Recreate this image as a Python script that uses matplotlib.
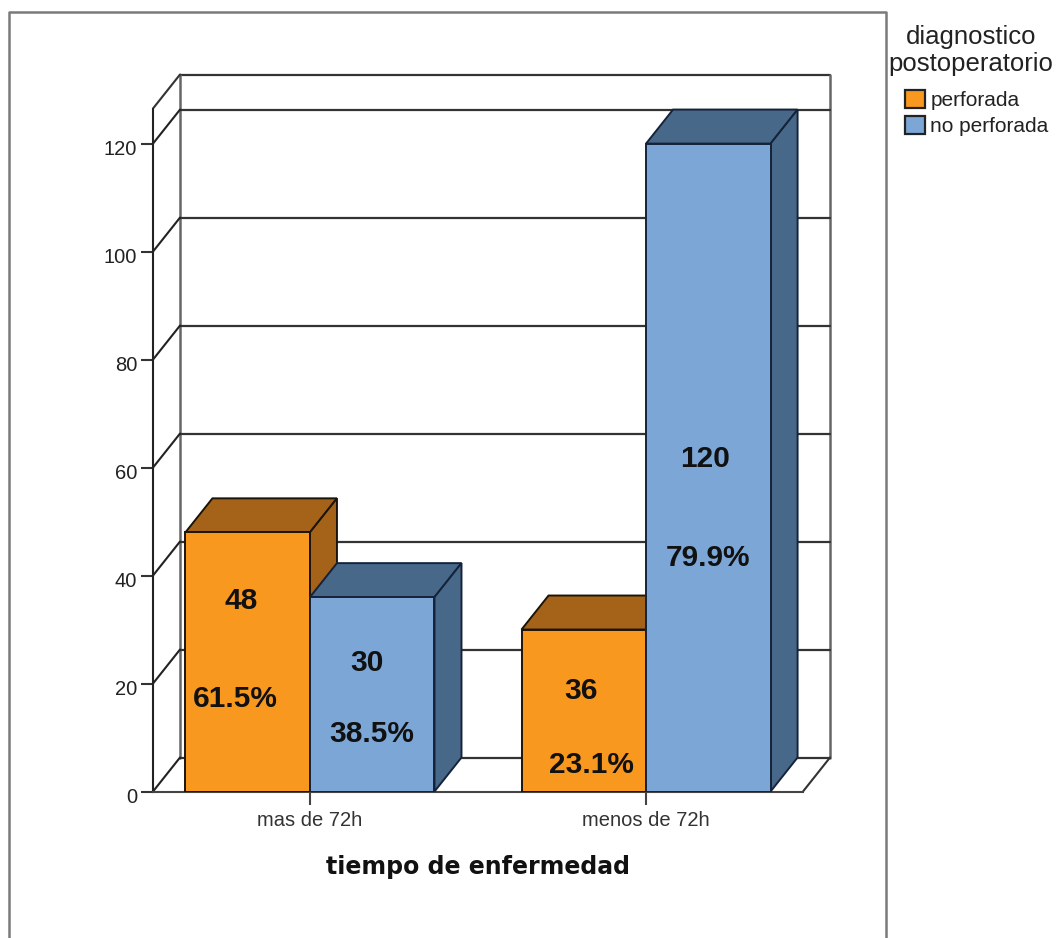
import matplotlib
matplotlib.use('Agg')
import matplotlib.pyplot as plt
from matplotlib.lines import Line2D
from matplotlib.patches import Patch
from matplotlib.transforms import ScaledTranslation

plt.rcParams['font.family'] = ['Liberation Sans', 'DejaVu Sans']

categories = ['mas de 72h', 'menos de 72h']
series = ['perforada', 'no perforada']
# bar heights as drawn, the printed labels differ from them in the original
heights = {'perforada': [48, 30], 'no perforada': [36, 120]}
count_labels = {'perforada': ['48', '36'], 'no perforada': ['30', '120']}
pct_labels = {'perforada': ['61.5%', '23.1%'], 'no perforada': ['38.5%', '79.9%']}
yticks = [0, 20, 40, 60, 80, 100, 120]

front = {'perforada': '#F9981E', 'no perforada': '#7BA6D6'}
dark = {'perforada': '#A5631A', 'no perforada': '#48688A'}

# label anchors: (x in category units, y in value units)
count_pos = {'perforada': [(-0.205, 35.3), (0.808, 18.6)],
             'no perforada': [(0.17, 23.8), (1.175, 61.6)]}
pct_pos = {'perforada': [(-0.222, 17.2), (0.838, 5.0)],
           'no perforada': [(0.185, 10.7), (1.185, 43.3)]}

W, H = 1059, 938
fig = plt.figure(figsize=(W / 100, H / 100), dpi=100, facecolor='white')

# outer frame, runs off the bottom of the image
fig.add_artist(Line2D([9 / W, 9 / W, 886 / W, 886 / W], [0, 1 - 12 / H, 1 - 12 / H, 0],
                      color='#7a7a7a', lw=1.8, transform=fig.transFigure))

ax = fig.add_axes([153 / W, 1 - 791.5 / H, 650 / W, 683 / H])
ax.set_xlim(-0.467, 1.467)
ax.set_ylim(0, 126.5)
x0, x1 = ax.get_xlim()
y1 = ax.get_ylim()[1]
dx, dy = 27 / 336, 34 / 5.4
bw = 0.3705

ln = dict(clip_on=False, solid_capstyle='round')
# back wall and floor
ax.plot([x0 + dx, x1 + dx], [y1 + dy, y1 + dy], color='#333333', lw=1.6, zorder=1, **ln)
ax.plot([x0 + dx, x0 + dx], [dy, y1 + dy], color='#666666', lw=1.8, zorder=1, **ln)
ax.plot([x1 + dx, x1 + dx], [dy, y1 + dy], color='#666666', lw=1.8, zorder=1, **ln)
ax.plot([x0, x0 + dx], [y1, y1 + dy], color='#333333', lw=1.5, zorder=1, **ln)
ax.plot([x1, x1 + dx], [0, dy], color='#333333', lw=1.5, zorder=1, **ln)
for t in yticks:
    ax.plot([x0 + dx, x1 + dx], [t + dy, t + dy], color='#333333', lw=1.6, zorder=1, **ln)
    ax.plot([x0, x0 + dx], [t, t + dy], color='#222222', lw=1.5, zorder=1, **ln)

# bars, left to right so each one covers the side of the one before
z = 3
for i, cat in enumerate(categories):
    for j, s in enumerate(series):
        left = i - bw + j * bw
        right = left + bw
        h = heights[s][i]
        ec = '#1c1408' if s == 'perforada' else '#14233a'
        ax.fill([left, left + dx, right + dx, right], [h, h + dy, h + dy, h],
                fc=dark[s], ec=ec, lw=1.4, zorder=z, clip_on=False)
        ax.fill([right, right + dx, right + dx, right], [0, dy, h + dy, h],
                fc=dark[s], ec=ec, lw=1.4, zorder=z, clip_on=False)
        ax.bar(left, h, width=bw, align='edge', color=front[s], ec=ec, lw=1.4, zorder=z + 1)
        z += 2

for s in series:
    for i in range(2):
        ax.text(*count_pos[s][i], count_labels[s][i], ha='center', va='center',
                fontsize=21.5, fontweight='bold', color='#111111', zorder=30)
        ax.text(*pct_pos[s][i], pct_labels[s][i], ha='center', va='center',
                fontsize=21.5, fontweight='bold', color='#111111', zorder=30)

for side in ['top', 'right']:
    ax.spines[side].set_visible(False)
ax.spines['left'].set_linewidth(1.5)
ax.spines['left'].set_color('#222222')
ax.spines['bottom'].set_linewidth(1.5)
ax.spines['bottom'].set_color('#444444')
ax.patch.set_alpha(0)
ax.set_yticks(yticks)
ax.set_xticks([0, 1], categories)
ax.tick_params(axis='y', length=8.5, width=1.5, labelsize=14.5, pad=3, color='#333333', labelcolor='#222222')
ax.tick_params(axis='x', length=9.5, width=1.5, labelsize=14.5, pad=4.5, color='#444444', labelcolor='#333333')
ax.set_xlabel('tiempo de enfermedad', fontsize=17, fontweight='bold', family='DejaVu Sans',
              color='#111111', labelpad=18)

# tick numbers sit a little below their ticks
shift = ScaledTranslation(0, -3 / 72, fig.dpi_scale_trans)
for lab in ax.get_yticklabels():
    lab.set_transform(lab.get_transform() + shift)

fig.text(971 / W, 1 - 50.5 / H, 'diagnostico\npostoperatorio', ha='center', va='center',
         fontsize=18.5, linespacing=1.12, color='#222222')
handles = [Patch(fc=front[s], ec='#222222', lw=1.6, label=s) for s in series]
fig.legend(handles=handles, loc='upper left', bbox_to_anchor=(905 / W, 1 - 90 / H), frameon=False,
           fontsize=15, labelcolor='#222222', handlelength=0.96, handleheight=0.96,
           handletextpad=0.25, labelspacing=0.26, borderpad=0, borderaxespad=0)

fig.savefig('out.png', dpi=100)
